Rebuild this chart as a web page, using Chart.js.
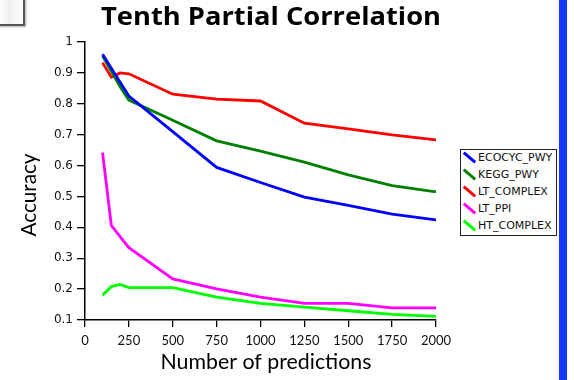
<!DOCTYPE html>
<html>
<head>
<meta charset="utf-8">
<script src="https://cdn.jsdelivr.net/npm/chart.js@4/dist/chart.umd.min.js"></script>
<style>
  html,body{margin:0;padding:0;background:#fff;}
  #wrap{position:relative;width:574px;height:380px;overflow:hidden;background:#fff;}
  #c{position:absolute;left:0;top:0;}
  #corner{position:absolute;left:-4px;top:-4px;width:25px;height:26px;border:2px solid #555;background:linear-gradient(90deg,#fff 0%,#eee 45%,#fff 100%);box-shadow:1px 1px 2px #aaa;}
  #bar{position:absolute;left:559px;top:0;width:8px;height:380px;background:#1438ff;}
  #legend{position:absolute;left:460px;top:149px;width:97px;height:87px;border:1px solid #222;background:#fff;font-family:"DejaVu Sans",sans-serif;font-size:11px;color:#111;box-sizing:border-box;}
  .row{position:relative;height:17px;line-height:17px;white-space:nowrap;}
  .row:first-child{margin-top:-1px;}
  .sym{position:absolute;left:1px;top:7px;width:15px;height:3px;transform:rotate(40deg);}
  .lab{position:absolute;left:17px;top:0;}
</style>
</head>
<body>
<div id="wrap">
  <canvas id="c" width="574" height="380"></canvas>
  <div id="corner"></div>
  <div id="bar"></div>
  <div id="legend"></div>
</div>
<script>
const chartTitle = "Tenth Partial Correlation";
const xAxisTitle = "Number of predictions";
const yAxisTitle = "Accuracy";
const predictions = [100, 150, 200, 250, 500, 750, 1000, 1250, 1500, 1750, 2000];
const seriesNames = ["ECOCYC_PWY", "KEGG_PWY", "LT_COMPLEX", "LT_PPI", "HT_COMPLEX"];
const seriesColors = ["#0000ff", "#008000", "#ff0000", "#ff00ff", "#00ff00"];
const ecocycPwy = [0.960, 0.915, 0.870, 0.825, 0.710, 0.594, 0.545, 0.498, 0.471, 0.443, 0.424];
const keggPwy   = [0.955, 0.905, 0.855, 0.812, 0.747, 0.680, 0.647, 0.611, 0.570, 0.535, 0.515];
const ltComplex = [0.933, 0.886, 0.900, 0.897, 0.831, 0.815, 0.809, 0.737, 0.719, 0.699, 0.683];
const ltPpi     = [0.642, 0.406, 0.370, 0.334, 0.233, 0.201, 0.174, 0.154, 0.154, 0.139, 0.139];
const htComplex = [0.180, 0.208, 0.215, 0.205, 0.205, 0.174, 0.154, 0.142, 0.130, 0.118, 0.112];
const seriesValues = [ecocycPwy, keggPwy, ltComplex, ltPpi, htComplex];
const xTicks = [0, 250, 500, 750, 1000, 1250, 1500, 1750, 2000];
const yTicks = [0.1, 0.2, 0.3, 0.4, 0.5, 0.6, 0.7, 0.8, 0.9, 1];

const datasets = seriesNames.map((name, i) => ({
  label: name,
  data: predictions.map((p, j) => ({x: p, y: seriesValues[i][j]})),
  borderColor: seriesColors[i],
  backgroundColor: seriesColors[i],
  borderWidth: 2.8,
  pointRadius: 0,
  tension: 0,
  fill: false
}));

function fitText(ctx, text, cx, cy, width) {
  const w = ctx.measureText(text).width;
  ctx.save();
  ctx.translate(cx, cy);
  ctx.scale(width / w, 1);
  ctx.fillText(text, 0, 0);
  ctx.restore();
}

const textPlugin = {
  id: 'texts',
  afterDraw(chart) {
    const ctx = chart.ctx;
    ctx.save();
    ctx.fillStyle = '#000';
    ctx.textAlign = 'center';
    ctx.textBaseline = 'middle';
    ctx.font = 'bold 25px "Open Sans", Lato, sans-serif';
    fitText(ctx, chartTitle, 271, 18, 340);
    ctx.font = '21px Lato, "Open Sans", sans-serif';
    fitText(ctx, xAxisTitle, 266, 362, 211);
    ctx.translate(29, 195);
    ctx.rotate(-Math.PI / 2);
    fitText(ctx, yAxisTitle, 0, 0, 83);
    ctx.restore();
  }
};

new Chart(document.getElementById('c'), {
  type: 'line',
  data: { datasets },
  options: {
    responsive: false,
    animation: false,
    devicePixelRatio: 1,
    layout: { padding: { left: 0, top: 42, right: 138, bottom: 0 } },
    plugins: { legend: { display: false }, title: { display: false }, tooltip: { enabled: false } },
    scales: {
      x: {
        type: 'linear',
        min: 0, max: 2000,
        afterFit(s) { s.height = 60; },
        afterBuildTicks(s) { s.ticks = xTicks.map(v => ({value: v})); },
        ticks: { color: '#111', font: { family: 'Lato, "Open Sans", sans-serif', size: 13 }, padding: 6, maxRotation: 0, autoSkip: false,
                 callback: v => String(v) },
        grid: { drawOnChartArea: false, drawTicks: true, tickLength: 7, color: '#000', lineWidth: 1.3 },
        border: { display: true, color: '#000', width: 1.5 }
      },
      y: {
        type: 'linear',
        min: 0.1, max: 1,
        afterFit(s) { s.width = 85; },
        afterBuildTicks(s) { s.ticks = yTicks.map(v => ({value: v})); },
        ticks: { color: '#111', font: { family: '"DejaVu Sans", sans-serif', size: 12 }, padding: 4, autoSkip: false,
                 callback: v => String(Number(v.toFixed(1))) },
        grid: { drawOnChartArea: false, drawTicks: true, tickLength: 8, color: '#000', lineWidth: 1.3 },
        border: { display: true, color: '#000', width: 1.5 }
      }
    }
  },
  plugins: [textPlugin]
});

const legend = document.getElementById('legend');
seriesNames.forEach((name, i) => {
  const row = document.createElement('div');
  row.className = 'row';
  const sym = document.createElement('div');
  sym.className = 'sym';
  sym.style.background = seriesColors[i];
  const lab = document.createElement('span');
  lab.className = 'lab';
  lab.textContent = name;
  row.appendChild(sym);
  row.appendChild(lab);
  legend.appendChild(row);
});
</script>
</body>
</html>
